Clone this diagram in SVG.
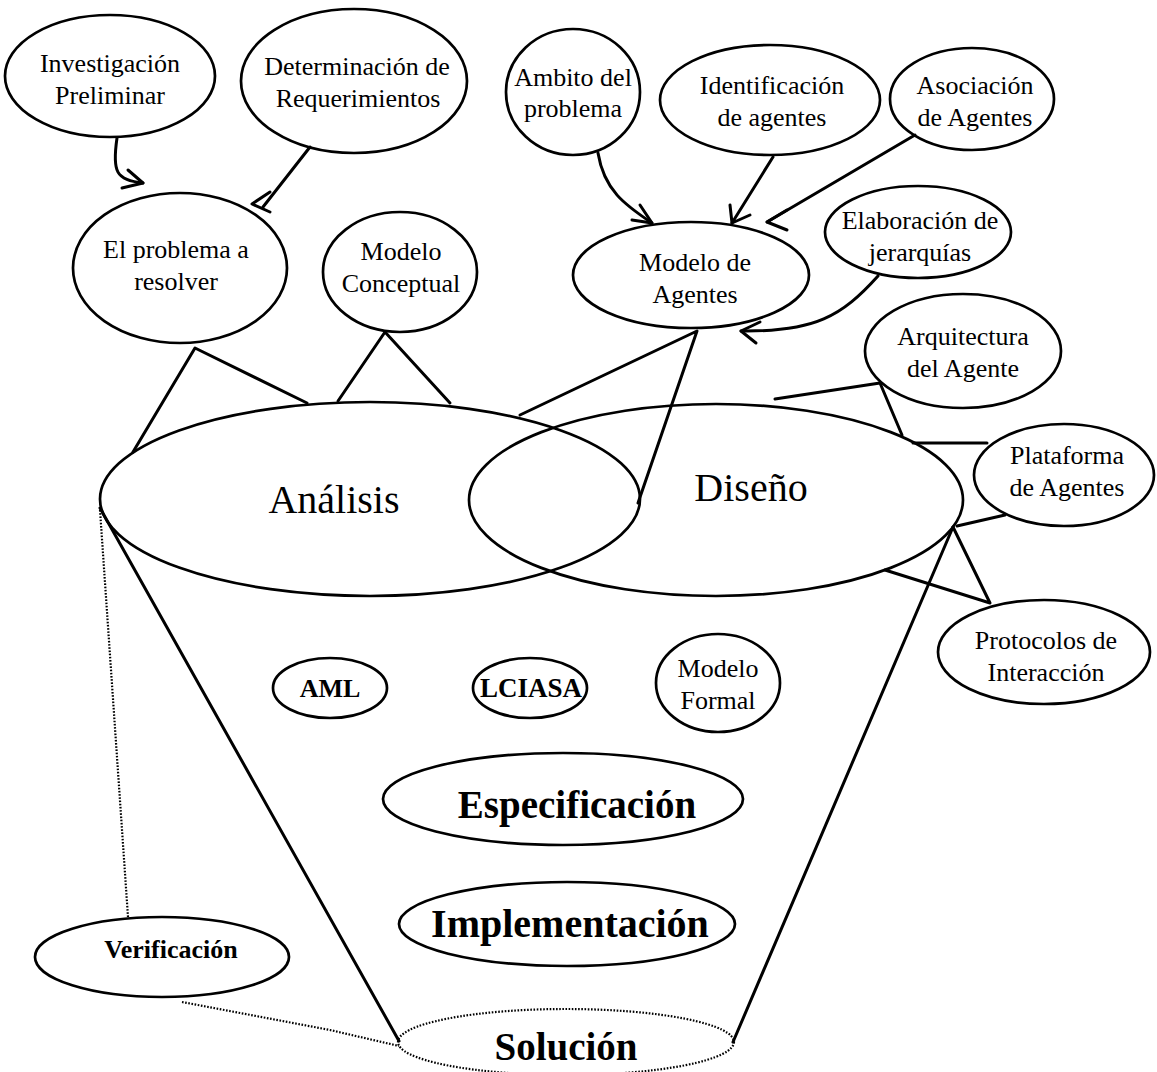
<svg xmlns="http://www.w3.org/2000/svg" width="1157" height="1072" viewBox="0 0 1157 1072">
  <style>
    .shape { fill: none; stroke: #000; stroke-width: 2.7; }
    .dotted { fill: none; stroke: #000; stroke-width: 2.2; stroke-dasharray: 1.6 1.6; }
    .conn { fill: none; stroke: #000; stroke-width: 3; stroke-linecap: round; stroke-linejoin: round; }
    text { font-family: "Liberation Serif", "Times New Roman", serif; fill: #000; text-anchor: middle; }
    .t { font-size: 26px; }
    .big { font-size: 40px; }
    .b { font-weight: bold; }
  </style>
  <rect width="1157" height="1072" fill="#fff"/>

  <!-- connectors -->
  <g id="connectors">
    <!-- Investigación -> El problema -->
    <path class="conn" d="M117,138 C112,172 116,180 143,183"/>
    <polyline class="conn" points="128,170 143,183 122,188"/>
    <!-- Determinación -> El problema -->
    <path class="conn" d="M310,147 L263,207"/>
    <polyline class="conn" points="270,192 252,204 270,212"/>
    <!-- Ambito -> Modelo de Agentes -->
    <path class="conn" d="M598,153 C604,190 625,205 652,223"/>
    <polyline class="conn" points="640,205 652,223 632,220"/>
    <!-- Identificación -> Modelo de Agentes -->
    <path class="conn" d="M773,157 L732,223"/>
    <polyline class="conn" points="730,205 732,223 750,215"/>
    <!-- Asociación -> Modelo de Agentes -->
    <path class="conn" d="M915,135 L767,222"/>
    <polyline class="conn" points="787,210 767,222 787,230"/>
    <!-- Elaboración -> Modelo de Agentes -->
    <path class="conn" d="M878,276 C842,316 815,332 741,331"/>
    <polyline class="conn" points="760,322 741,331 756,343"/>

    <!-- El problema a resolver -> Análisis -->
    <polyline class="conn" points="133,452 195,348 307,403"/>
    <!-- Modelo Conceptual -> Análisis -->
    <polyline class="conn" points="338,401 385,332 450,403"/>
    <!-- Modelo de Agentes -> Análisis / Diseño -->
    <polyline class="conn" points="520,415 697,331 638,503"/>
    <!-- Arquitectura del Agente -> Diseño -->
    <polyline class="conn" points="775,399 880,383 902,435"/>
    <!-- Plataforma de Agentes -> Diseño -->
    <line class="conn" x1="913" y1="443" x2="987" y2="443"/>
    <line class="conn" x1="1005" y1="515" x2="957" y2="526"/>
    <!-- Protocolos de Interacción -> Diseño -->
    <polyline class="conn" points="885,570 990,603 953,527"/>

    <!-- funnel sides -->
    <line class="conn" x1="100" y1="508" x2="399" y2="1041"/>
    <line class="conn" x1="953" y1="527" x2="733" y2="1042"/>

    <!-- Verificación links -->
    <line class="dotted" x1="100" y1="510" x2="128" y2="917"/>
    <path class="dotted" d="M182,1002 L330,1030 L399,1046"/>
  </g>

  <g id="n-investigacion">
    <ellipse class="shape" cx="110" cy="76" rx="105" ry="61"/>
    <text class="t" x="110" y="72">Investigación</text>
    <text class="t" x="110" y="104">Preliminar</text>
  </g>
  <g id="n-determinacion">
    <ellipse class="shape" cx="354" cy="81" rx="113" ry="72"/>
    <text class="t" x="357" y="75">Determinación de</text>
    <text class="t" x="358" y="107">Requerimientos</text>
  </g>
  <g id="n-ambito">
    <ellipse class="shape" cx="573" cy="92" rx="67" ry="63"/>
    <text class="t" x="573" y="86">Ambito del</text>
    <text class="t" x="573" y="117">problema</text>
  </g>
  <g id="n-identificacion">
    <ellipse class="shape" cx="770" cy="100" rx="110" ry="55"/>
    <text class="t" x="772" y="94">Identificación</text>
    <text class="t" x="772" y="126">de agentes</text>
  </g>
  <g id="n-asociacion">
    <ellipse class="shape" cx="972" cy="99" rx="82" ry="51"/>
    <text class="t" x="975" y="94">Asociación</text>
    <text class="t" x="975" y="126">de Agentes</text>
  </g>
  <g id="n-problema">
    <ellipse class="shape" cx="180" cy="268" rx="107" ry="75"/>
    <text class="t" x="176" y="258">El problema a</text>
    <text class="t" x="176" y="290">resolver</text>
  </g>
  <g id="n-conceptual">
    <ellipse class="shape" cx="400" cy="272" rx="77" ry="60"/>
    <text class="t" x="401" y="260">Modelo</text>
    <text class="t" x="401" y="292">Conceptual</text>
  </g>
  <g id="n-modelo-agentes">
    <ellipse class="shape" cx="691" cy="275" rx="118" ry="53"/>
    <text class="t" x="695" y="271">Modelo de</text>
    <text class="t" x="695" y="303">Agentes</text>
  </g>
  <g id="n-elaboracion">
    <ellipse class="shape" cx="918" cy="232" rx="93" ry="46"/>
    <text class="t" x="920" y="229">Elaboración de</text>
    <text class="t" x="920" y="261">jerarquías</text>
  </g>
  <g id="n-arquitectura">
    <ellipse class="shape" cx="963" cy="351" rx="98" ry="57"/>
    <text class="t" x="963" y="345">Arquitectura</text>
    <text class="t" x="963" y="377">del Agente</text>
  </g>
  <g id="n-analisis">
    <ellipse class="shape" cx="370" cy="499" rx="270" ry="97"/>
    <text class="big" x="334" y="513">Análisis</text>
  </g>
  <g id="n-diseno">
    <ellipse class="shape" cx="716" cy="500" rx="247" ry="96"/>
    <text class="big" x="751" y="501">Diseño</text>
  </g>
  <g id="n-plataforma">
    <ellipse class="shape" cx="1064" cy="475" rx="90" ry="51"/>
    <text class="t" x="1067" y="464">Plataforma</text>
    <text class="t" x="1067" y="496">de Agentes</text>
  </g>
  <g id="n-protocolos">
    <ellipse class="shape" cx="1044" cy="652" rx="106" ry="52"/>
    <text class="t" x="1046" y="649">Protocolos de</text>
    <text class="t" x="1046" y="681">Interacción</text>
  </g>
  <g id="n-aml">
    <ellipse class="shape" cx="330" cy="688" rx="57" ry="30"/>
    <text class="b" x="330" y="697" font-size="26">AML</text>
  </g>
  <g id="n-lciasa">
    <ellipse class="shape" cx="530" cy="688" rx="57" ry="30"/>
    <text class="b" x="531" y="697" font-size="27">LCIASA</text>
  </g>
  <g id="n-formal">
    <ellipse class="shape" cx="718" cy="683" rx="62" ry="49"/>
    <text class="t" x="718" y="677">Modelo</text>
    <text class="t" x="718" y="709">Formal</text>
  </g>
  <g id="n-especificacion">
    <ellipse class="shape" cx="563" cy="799" rx="180" ry="46"/>
    <text class="b" x="577" y="818" font-size="39">Especificación</text>
  </g>
  <g id="n-implementacion">
    <ellipse class="shape" cx="567" cy="924" rx="168" ry="42"/>
    <text class="b" x="570" y="937" font-size="40">Implementación</text>
  </g>
  <g id="n-verificacion">
    <ellipse class="shape" cx="162" cy="957" rx="127" ry="40"/>
    <text class="b" x="171" y="958" font-size="26">Verificación</text>
  </g>
  <g id="n-solucion">
    <ellipse class="dotted" cx="566" cy="1042" rx="168" ry="33"/>
    <text class="b" x="566" y="1060" font-size="39">Solución</text>
  </g>
</svg>
